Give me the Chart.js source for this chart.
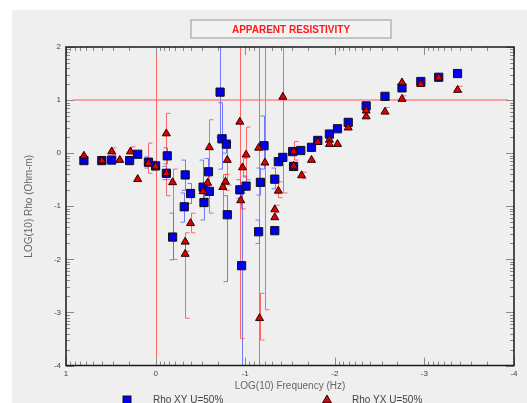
<!DOCTYPE html>
<html>
<head>
<meta charset="utf-8">
<script src="https://cdn.jsdelivr.net/npm/chart.js@4/dist/chart.umd.min.js"></script>
<style>
  html, body { margin: 0; padding: 0; background: #fff; overflow: hidden; }
</style>
</head>
<body>
<canvas id="rhoChart" width="527" height="403"></canvas>
<script>
// LOG10 frequency and LOG10 apparent resistivity
const xyFreq = [0.80, 0.60, 0.49, 0.29, 0.20, 0.08, 0.00, -0.13, -0.12, -0.19, -0.33, -0.39, -0.32, -0.59, -0.53,
  -0.60, -0.54, -0.74, -0.79, -0.80, -0.72, -0.94, -1.01, -0.96, -1.21, -1.17, -1.15, -1.37, -1.42, -1.53,
  -1.33, -1.33, -1.54, -1.62, -1.74, -1.81, -1.94, -2.03, -2.15, -2.35, -2.56, -2.75, -2.96, -3.16, -3.37];
const xyRho = [-0.14, -0.14, -0.13, -0.14, -0.02, -0.17, -0.24, -0.05, -0.38, -1.58, -0.41, -0.76, -1.01, -0.35, -0.64,
  -0.72, -0.93, 0.27, 0.17, -1.16, 1.15, -0.69, -0.62, -2.12, 0.14, -0.55, -1.48, -0.16, -0.08, 0.03,
  -0.49, -1.46, -0.25, 0.05, 0.11, 0.24, 0.36, 0.46, 0.58, 0.89, 1.07, 1.23, 1.35, 1.43, 1.50];
const xyErrLo = [null, null, null, null, null, -0.28, -0.32, -0.20, -0.50, -2.01, -0.70, -0.95, -1.30, -0.60, -0.90,
  -0.85, -1.26, -0.30, 0.00, -2.42, 0.30, -0.85, -0.70, -5.00, -0.30, -0.79, -1.70, null, null, null,
  -0.67, null, null, null, null, null, null, null, null, null, null, null, null, null, null];
const xyErrHi = [null, null, null, null, null, -0.07, -0.15, 0.10, -0.25, -1.13, -0.13, -0.57, -0.75, -0.10, -0.13,
  -0.60, -0.60, 0.95, 0.35, -0.80, 3.00, -0.50, -0.43, -0.70, 0.70, -0.28, -1.26, null, null, null,
  -0.28, null, null, null, null, null, null, null, null, null, null, null, null, null, null];

const yxFreq = [0.80, 0.60, 0.49, 0.40, 0.28, 0.20, 0.08, 0.00, -0.12, -0.12, -0.19, -0.39, -0.33, -0.33, -0.60,
  -0.53, -0.58, -0.80, -0.75, -0.78, -0.94, -1.01, -0.97, -0.95, -1.15, -1.22, -1.16, -1.42, -1.37, -1.33,
  -1.33, -1.54, -1.54, -1.63, -1.74, -1.81, -1.94, -1.94, -2.03, -2.15, -2.35, -2.35, -2.56, -2.75, -2.75,
  -2.96, -3.16, -3.37];
const yxRho = [-0.05, -0.14, 0.03, -0.13, 0.03, -0.49, -0.19, -0.25, 0.37, -0.38, -0.55, -1.32, -1.67, -1.90, 0.11,
  -0.72, -0.56, -0.13, -0.64, -0.54, 0.59, -0.03, -0.27, -0.89, 0.10, -0.18, -3.11, 1.06, -0.71, -1.06,
  -1.21, 0.03, -0.24, -0.42, -0.13, 0.21, 0.25, 0.17, 0.17, 0.48, 0.80, 0.69, 0.78, 1.33, 1.02,
  1.30, 1.42, 1.19];
const yxErrLo = [null, null, -0.02, null, -0.02, null, -0.38, -5.00, -0.80, -0.50, -2.00, -1.50, -1.85, -3.11, -1.13,
  -0.85, -0.70, -0.60, -1.20, -0.70, -3.49, -0.50, -0.45, -1.05, -5.00, -2.95, -3.52, -0.75, -0.84, -1.12,
  null, -0.13, null, -0.48, null, null, null, null, null, null, null, null, 0.74, null, 0.98,
  null, null, 1.15];
const yxErrHi = [null, null, 0.10, null, 0.12, null, 0.19, 3.00, 0.75, -0.30, -0.30, -1.13, -1.50, -1.70, 0.63,
  -0.55, -0.40, 0.20, -0.40, -0.40, 3.00, 0.49, -0.10, -0.75, 3.00, 3.00, -2.64, 3.00, -0.54, -0.98,
  null, 0.22, null, -0.36, null, null, null, null, null, null, null, null, 0.86, null, 1.08,
  null, null, 1.26];

// horizontal reference line at LOG(10) Rho = 1
const refLineFreq = [0.925, -3.93];
const refLineRho = [1, 1];

const xTicks = [1, 0, -1, -2, -3, -4];
const yTicks = [2, 1, 0, -1, -2, -3, -4];

const seriesLabels = ['Rho XY U=50%', 'Rho YX U=50%'];

const toPoints = (xs, ys) => xs.map((v, i) => ({ x: v, y: ys[i] }));

const errorSets = [
  { freq: xyFreq, lo: xyErrLo, hi: xyErrHi, color: 'rgba(70, 70, 255, 0.7)', cap: -4 },
  { freq: yxFreq, lo: yxErrLo, hi: yxErrHi, color: 'rgba(255, 60, 60, 0.75)', cap: 4 },
];

// panel, title box
const backdrop = {
  id: 'backdrop',
  beforeDraw(chart) {
    const { ctx, width, height } = chart;
    ctx.save();
    ctx.fillStyle = '#ffffff';
    ctx.fillRect(0, 0, width, height);
    ctx.fillStyle = '#efefef';
    ctx.fillRect(12, 10, width - 12, height - 10);
    ctx.fillStyle = '#f3f3f3';
    ctx.fillRect(191, 20, 200, 18);
    ctx.strokeStyle = '#b4b4b4';
    ctx.lineWidth = 1.5;
    ctx.strokeRect(191, 20, 200, 18);
    ctx.fillStyle = '#ff1a1a';
    ctx.font = 'bold 10px "Liberation Sans", Arial, sans-serif';
    ctx.textAlign = 'center';
    ctx.textBaseline = 'middle';
    ctx.fillText('APPARENT RESISTIVITY', 291, 30);
    ctx.restore();
  }
};

const errorBars = {
  id: 'errorBars',
  beforeDatasetsDraw(chart) {
    const { ctx, chartArea, scales: { x, y } } = chart;
    ctx.save();
    ctx.beginPath();
    ctx.rect(chartArea.left, chartArea.top, chartArea.width, chartArea.height);
    ctx.clip();
    ctx.lineWidth = 1;
    errorSets.forEach(set => {
      ctx.strokeStyle = set.color;
      set.freq.forEach((f, i) => {
        if (set.lo[i] === null) return;
        const px = Math.round(x.getPixelForValue(f)) + 0.5;
        const yLo = y.getPixelForValue(set.lo[i]);
        const yHi = y.getPixelForValue(set.hi[i]);
        ctx.beginPath();
        ctx.moveTo(px + set.cap, yHi);
        ctx.lineTo(px, yHi);
        ctx.lineTo(px, yLo);
        ctx.lineTo(px + set.cap, yLo);
        ctx.stroke();
      });
    });
    ctx.restore();
  }
};

// log style minor ticks inside the frame + frame itself + legend
const frameAndLegend = {
  id: 'frameAndLegend',
  afterDraw(chart) {
    const { ctx, chartArea: a, scales: { x, y } } = chart;
    ctx.save();
    ctx.strokeStyle = '#8a8a8a';
    ctx.lineWidth = 1;
    const minors = [2, 3, 4, 5, 6, 7, 8, 9].map(k => Math.log10(k));
    for (let d = -4; d <= 1; d++) {
      const marks = d < 1 ? minors.map(m => d + m) : [];
      [[[d], 8], [marks, 4]].forEach(([vals, len]) => {
        vals.forEach(v => {
          const px = Math.round(x.getPixelForValue(v)) + 0.5;
          ctx.beginPath();
          ctx.moveTo(px, a.bottom); ctx.lineTo(px, a.bottom - len);
          ctx.moveTo(px, a.top); ctx.lineTo(px, a.top + len);
          ctx.stroke();
        });
      });
    }
    for (let d = -4; d <= 2; d++) {
      const marks = d < 2 ? minors.map(m => d + m) : [];
      [[[d], 8], [marks, 4]].forEach(([vals, len]) => {
        vals.forEach(v => {
          const py = Math.round(y.getPixelForValue(v)) + 0.5;
          ctx.beginPath();
          ctx.moveTo(a.left, py); ctx.lineTo(a.left + len, py);
          ctx.moveTo(a.right, py); ctx.lineTo(a.right - len, py);
          ctx.stroke();
        });
      });
    }
    ctx.strokeStyle = '#1a1a1a';
    ctx.lineWidth = 1.5;
    ctx.strokeRect(a.left, a.top, a.right - a.left, a.bottom - a.top);

    // legend
    ctx.font = '10px "Liberation Sans", Arial, sans-serif';
    ctx.textBaseline = 'top';
    ctx.textAlign = 'left';
    ctx.fillStyle = '#0000ee';
    ctx.strokeStyle = '#111';
    ctx.lineWidth = 1;
    ctx.fillRect(123, 396, 8, 8);
    ctx.strokeRect(123, 396, 8, 8);
    ctx.fillStyle = '#e00000';
    ctx.beginPath();
    ctx.moveTo(327, 395); ctx.lineTo(331.5, 403); ctx.lineTo(322.5, 403); ctx.closePath();
    ctx.fill(); ctx.stroke();
    ctx.fillStyle = '#444';
    ctx.fillText(seriesLabels[0], 153, 395);
    ctx.fillText(seriesLabels[1], 352, 395);
    ctx.restore();
  }
};

const ctx = document.getElementById('rhoChart').getContext('2d');
new Chart(ctx, {
  type: 'scatter',
  data: {
    datasets: [
      {
        label: seriesLabels[1],
        data: toPoints(yxFreq, yxRho),
        pointStyle: 'triangle',
        pointRadius: 4.6,
        backgroundColor: '#e00000',
        borderColor: '#2a0000',
        borderWidth: 1,
        order: 1,
      },
      {
        label: seriesLabels[0],
        data: toPoints(xyFreq, xyRho),
        pointStyle: 'rect',
        pointRadius: 5.8,
        backgroundColor: '#0000ee',
        borderColor: '#111',
        borderWidth: 1,
        order: 2,
      },
      {
        label: 'ref',
        data: toPoints(refLineFreq, refLineRho),
        showLine: true,
        pointRadius: 0,
        borderColor: 'rgba(255, 100, 100, 0.75)',
        borderWidth: 1.5,
        order: 3,
      },
    ],
  },
  options: {
    responsive: false,
    animation: false,
    layout: { padding: { top: 47, right: 13, left: 0, bottom: 0 } },
    plugins: {
      legend: { display: false },
      tooltip: { enabled: false },
    },
    scales: {
      x: {
        type: 'linear',
        reverse: true,
        min: -4,
        max: 1,
        afterBuildTicks: scale => { scale.ticks = xTicks.map(v => ({ value: v })); },
        afterFit: scale => { scale.height = 37.5; },
        grid: { display: false, drawTicks: false },
        border: { display: false },
        ticks: { padding: 3, color: '#444', font: { size: 8, family: 'Liberation Sans' } },
        title: {
          display: true,
          text: 'LOG(10) Frequency (Hz)',
          color: '#666',
          padding: { top: 0, bottom: 11 },
          font: { size: 10, family: 'Liberation Sans' },
        },
      },
      y: {
        type: 'linear',
        min: -4,
        max: 2,
        afterBuildTicks: scale => { scale.ticks = yTicks.map(v => ({ value: v })); },
        afterFit: scale => { scale.width = 66; },
        grid: { display: false, drawTicks: false },
        border: { display: false },
        ticks: { padding: 5, color: '#444', font: { size: 8, family: 'Liberation Sans' } },
        title: {
          display: true,
          text: 'LOG(10) Rho (Ohm-m)',
          color: '#666',
          padding: { top: 23, bottom: 0 },
          font: { size: 10, family: 'Liberation Sans' },
        },
      },
    },
  },
  plugins: [backdrop, errorBars, frameAndLegend],
});
</script>
</body>
</html>
